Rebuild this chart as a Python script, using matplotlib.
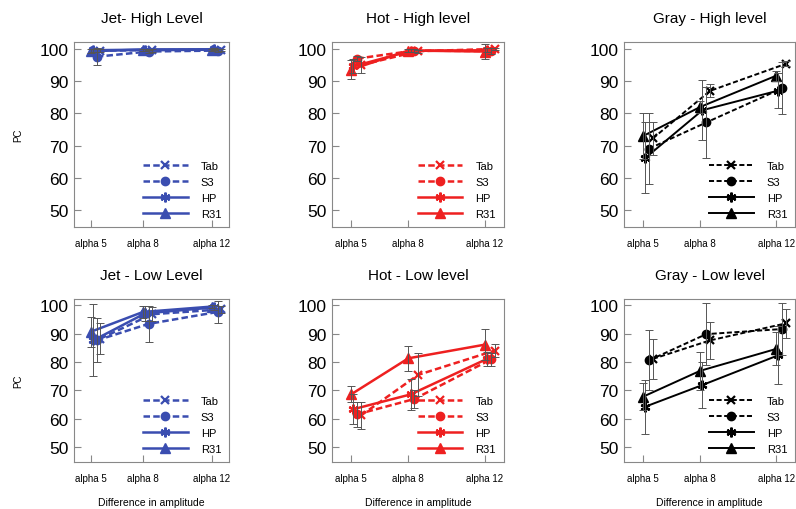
import numpy as np
import matplotlib.pyplot as plt

plt.rcParams['font.family'] = ['Liberation Sans', 'DejaVu Sans']

alphas = [5, 8, 12]
alpha_labels = ['alpha 5', 'alpha 8', 'alpha 12']
methods = ['Tab', 'S3', 'HP', 'R31']

# PC values, rows are Tab, S3, HP, R31 ; columns alpha 5, 8, 12
jet_high = [[99.5, 99.6, 99.8], [97.6, 99.2, 99.5], [99.6, 99.8, 99.9], [99.3, 99.8, 99.8]]
jet_high_err = [[0.5, 0.4, 0.3], [2.7, 0.6, 0.5], [0.4, 0.3, 0.3], [0.6, 0.3, 0.3]]

hot_high = [[95.0, 99.3, 100.0], [97.0, 99.5, 99.3], [94.6, 99.4, 99.6], [93.6, 99.5, 99.2]]
hot_high_err = [[2.5, 0.5, 0.4], [0.7, 0.4, 1.0], [2.2, 0.5, 0.6], [3.0, 0.4, 2.4]]

gray_high = [[72.3, 87.0, 95.4], [69.1, 77.2, 87.8], [66.2, 81.0, 87.1], [73.0, 82.0, 91.7]]
gray_high_err = [[5.2, 2.0, 0.8], [11.0, 11.0, 8.0], [11.0, 9.3, 5.5], [7.0, 2.0, 1.5]]

jet_low = [[88.2, 96.8, 98.5], [87.6, 93.4, 97.6], [87.6, 97.1, 99.2], [90.7, 97.6, 99.5]]
jet_low_err = [[5.5, 2.5, 1.2], [7.7, 6.3, 3.8], [12.7, 2.6, 1.0], [5.3, 2.0, 0.6]]

hot_low = [[61.2, 75.5, 84.0], [61.6, 67.0, 80.9], [63.4, 68.6, 81.1], [68.6, 81.3, 86.1]]
hot_low_err = [[4.6, 7.5, 2.3], [4.4, 3.2, 2.4], [5.2, 5.5, 2.5], [2.8, 4.3, 5.5]]

gray_low = [[81.1, 87.6, 93.6], [80.6, 89.8, 91.6], [64.3, 71.9, 82.4], [67.8, 76.9, 84.6]]
gray_low_err = [[7.0, 6.6, 5.2], [10.5, 10.8, 9.0], [9.5, 8.0, 10.2], [4.7, 6.7, 5.8]]

panels = [
    ('Jet- High Level', jet_high, jet_high_err, '#3a4db0'),
    ('Hot - High level', hot_high, hot_high_err, '#ee2020'),
    ('Gray - High level', gray_high, gray_high_err, 'black'),
    ('Jet - Low Level', jet_low, jet_low_err, '#3a4db0'),
    ('Hot - Low level', hot_low, hot_low_err, '#ee2020'),
    ('Gray - Low level', gray_low, gray_low_err, 'black'),
]

offsets = [0.52, 0.32, 0.12, 0.0]
styles = ['--', '--', '-', '-']
markers = ['x', 'o', (6, 2, 0), '^']
msizes = [6, 6, 7, 6.5]

lefts = [0.093, 0.417, 0.784]
widths = [0.195, 0.216, 0.215]
bottoms = [0.553, 0.092]
heights = [0.363, 0.320]

fig = plt.figure(figsize=(7.96, 5.10), dpi=100)

for k, (title, vals, errs, col) in enumerate(panels):
    row, c = divmod(k, 3)
    ax = fig.add_axes([lefts[c], bottoms[row], widths[c], heights[row]])
    lw = 1.4 if col == 'black' else 1.8
    for i, m in enumerate(methods):
        x = np.array(alphas) + offsets[i]
        ax.errorbar(x, vals[i], yerr=errs[i], fmt='none', ecolor='#555555',
                    elinewidth=0.7, capsize=3, capthick=0.7, zorder=3)
        ls = (0, (2.6, 1.3)) if styles[i] == '--' else '-'
        ax.plot(x, vals[i], linestyle=ls, color=col, lw=lw, marker=markers[i],
                ms=msizes[i], mew=1.6 if i in (0, 2) else 1, label=m, zorder=2)

    ax.set_xlim(4, 13)
    ax.set_ylim(44.8, 102.2)
    ax.set_xticks(alphas)
    ax.set_xticklabels(alpha_labels)
    ax.set_yticks([50, 60, 70, 80, 90, 100])
    ax.tick_params(axis='both', direction='in', length=5, width=0.8, color='#888888')
    ax.tick_params(axis='x', labelsize=7, pad=8)
    ax.tick_params(axis='y', labelsize=12.5, pad=4)
    for s in ax.spines.values():
        s.set_color('#888888')
        s.set_linewidth(0.8)
    ax.set_title(title, fontsize=11, pad=14)
    if c == 0:
        ax.set_ylabel('PC', fontsize=7, labelpad=12)
    if row == 1:
        ax.set_xlabel('Difference in amplitude', fontsize=7.5, labelpad=10)
    ax.legend(loc='lower right', frameon=False, fontsize=8, handlelength=4.0,
              labelspacing=0.55, handletextpad=1.2, borderaxespad=0.3)

fig.savefig('out.png', dpi=100)
